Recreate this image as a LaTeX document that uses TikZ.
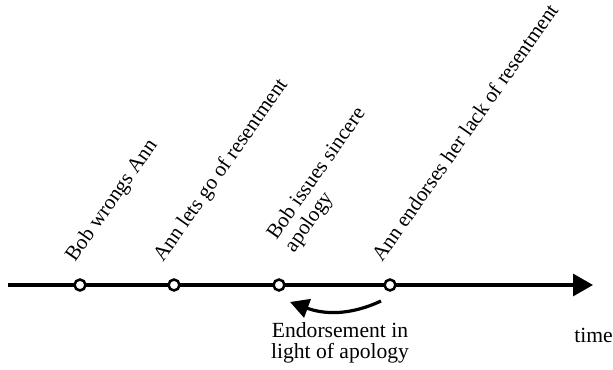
\documentclass[tikz,border=0pt]{standalone}
\usepackage{fontspec}
\setmainfont{Liberation Serif}
\usetikzlibrary{arrows.meta}
\begin{document}
\begin{tikzpicture}[x=0.75pt, y=0.75pt,
        event/.style={circle, draw, fill=white, line width=1.9pt, minimum size=8.2pt, inner sep=0pt},
        tag/.style={rotate=55, anchor=base west, inner sep=0pt, font=\fontsize{15.8}{16.2}\selectfont},
        note/.style={align=center, inner sep=0pt, font=\fontsize{16.2}{16.3}\selectfont}]
            \def \y {85}
            \useasboundingbox (0,0) rectangle (613,370);
            \coordinate (start) at (8,\y);
            \coordinate (end) at (593,\y);
            \draw[line width=2.4pt, -{Triangle[length=15pt, width=16.5pt]}] (start) -- (end);
            \node[event] (1) at (80,\y) {};
            \node[event] (2) at (174,\y) {};
            \node[event] (3) at (279,\y) {};
            \node[event] (4) at (390,\y) {};
            \node[tag] (t1) at (75,107) {Bob wrongs Ann};
            \node[tag] (t2) at (163,107) {Ann lets go of resentment};
            \node[tag, anchor=south west, align=left] (t3) at (298,114) {Bob issues sincere\\apology};
            \node[tag] (t4) at (382,107) {Ann endorses her lack of resentment};
            \coordinate (from) at (381,69);
            \coordinate (to) at (290,68);
            \draw[line width=2.4pt, -{Triangle[length=14pt, width=14.5pt]}] (from) to[out=205, in=-20] (to);
            \node[note, anchor=north] (why) at (340,48) {Endorsement in\\light of apology};
            \node[note, anchor=base west] (time) at (574,27) {time};
        \end{tikzpicture}
\end{document}
